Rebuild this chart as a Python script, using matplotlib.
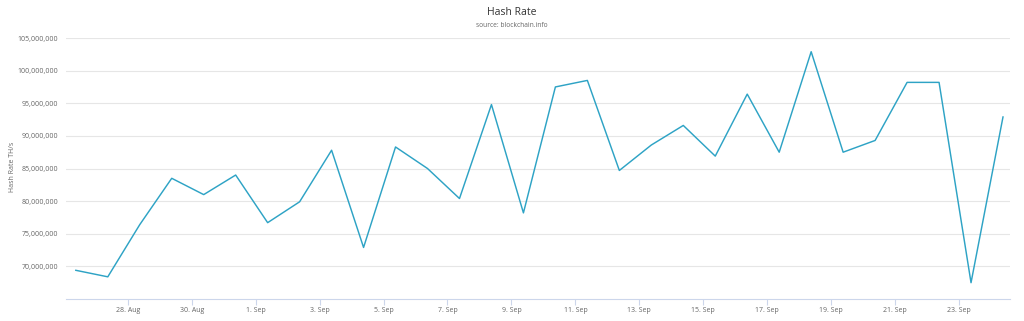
import matplotlib
matplotlib.use("Agg")
import matplotlib.pyplot as plt
import matplotlib.ticker as mticker
import pandas as pd

# daily hash rate readings, TH/s
days = pd.date_range("2019-08-26 09:00", periods=30, freq="D")
hash_rate = [
    69.4, 68.4, 76.4, 83.5, 81.0, 84.0, 76.7, 79.9, 87.8, 72.9,
    88.3, 85.0, 80.4, 94.8, 78.2, 97.5, 98.5, 84.7, 88.6, 91.6,
    86.9, 96.4, 87.5, 102.9, 87.5, 89.3, 98.2, 98.2, 67.5, 92.9,
]
hash_rate = [v * 1e6 for v in hash_rate]
y_ticks = [70e6, 75e6, 80e6, 85e6, 90e6, 95e6, 100e6, 105e6]

plt.rcParams["font.family"] = ["Open Sans", "DejaVu Sans"]

fig = plt.figure(figsize=(10.24, 3.21), dpi=100)
ax = fig.add_axes([0.0645, 0.0685, 0.9215, 0.8131])

ax.plot(days, hash_rate, color="#2ea3c5", lw=1.05)

ax.set_ylim(65e6, 105e6)
ax.set_xlim(pd.Timestamp("2019-08-26 01:40"), pd.Timestamp("2019-09-24 14:00"))
ax.set_yticks(y_ticks)
ax.yaxis.set_major_formatter(mticker.FuncFormatter(lambda v, p: f"{v:,.0f}"))
xt = pd.date_range("2019-08-28", "2019-09-23", freq="2D")
ax.set_xticks(xt)
ax.set_xticklabels([f"{d.day}. {d.strftime('%b')}" for d in xt])

ax.grid(axis="y", color="#e6e6e6", lw=0.8)
ax.set_axisbelow(True)
for s in ["top", "right", "left"]:
    ax.spines[s].set_visible(False)
ax.spines["bottom"].set_color("#ccd6eb")
ax.spines["bottom"].set_linewidth(0.8)
ax.tick_params(axis="y", length=0, pad=5.5, labelsize=5, labelcolor="#666666")
ax.tick_params(axis="x", length=4, width=0.8, color="#ccd6eb", pad=2,
               labelsize=5, labelcolor="#666666")

fig.text(0.012, 0.48, "Hash Rate TH/s", rotation=90, ha="center", va="center",
         fontsize=5, color="#666666")

fig.text(0.5, 0.962, "Hash Rate", ha="center", va="center", fontsize=7.5, color="#333333")
fig.text(0.5, 0.922, "source: blockchain.info", ha="center", va="center", fontsize=4.8, color="#666666")

fig.savefig("out.png", dpi=100, facecolor="white")
